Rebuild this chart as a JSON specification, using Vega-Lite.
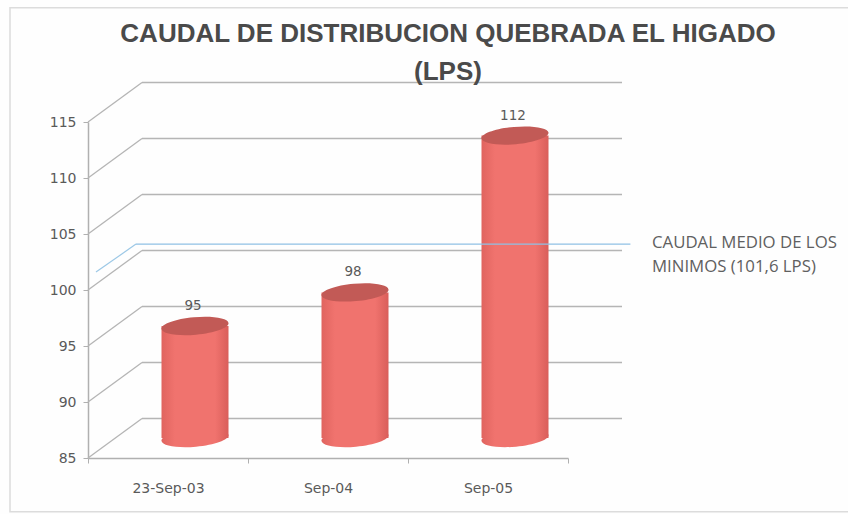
{
"$schema":"https://vega.github.io/schema/vega-lite/v6.json",
"width":480,"height":336,
"autosize":"none",
"padding":{"left":88,"top":122,"right":280,"bottom":56},
"background":"#fefefe",
"view":{"stroke":null},
"title":{"text":["CAUDAL DE DISTRIBUCION QUEBRADA EL HIGADO","(LPS)"],"frame":"group","anchor":"middle","dx":120,"offset":-78,"font":"Liberation Sans","fontWeight":"bold","fontSize":26,"color":"#4a4a4a","lineHeight":38},
"datasets":{
"bars":[{"fecha":"23-Sep-03","pos":0.5,"base":85,"caudal":95},{"fecha":"Sep-04","pos":1.5,"base":85,"caudal":98},{"fecha":"Sep-05","pos":2.5,"base":85,"caudal":112}],
"grid":[{"v":85,"x0":0,"x1":3},{"v":90,"x0":0,"x1":3},{"v":95,"x0":0,"x1":3},{"v":100,"x0":0,"x1":3},{"v":105,"x0":0,"x1":3},{"v":110,"x0":0,"x1":3},{"v":115,"x0":0,"x1":3}],
"mean":[{"caudal":101.6,"desde":0.05,"hasta":3.14}],
"nota":[{"x":3.525,"caudal":101.6,"texto":"CAUDAL MEDIO DE LOS\nMINIMOS (101,6 LPS)"}],
"marco":[{"a":-0.4875,"b":4.78,"y0":80.2,"y1":125.2}]
},
"layer":[
{"data":{"name":"marco"},"mark":{"type":"rect","fill":null,"stroke":"#dcdcdc","strokeWidth":1.5},
 "encoding":{"x":{"field":"a","type":"quantitative","scale":{"domain":[0,3],"nice":false,"padding":0},
   "axis":{"values":[0,1,2,3],"title":null,"grid":false,"labelExpr":"['23-Sep-03','Sep-04','Sep-05',''][datum.value]","labelOffset":80,"labelPadding":18,"labelFont":"DejaVu Sans","labelFontSize":14,"labelColor":"#5a5a5a","domainColor":"#b0b0b0","domainWidth":1.5,"tickColor":"#b0b0b0","tickSize":5,"labelFlush":false,"labelOverlap":false}},
  "x2":{"field":"b"},
  "y":{"field":"y0","type":"quantitative","scale":{"domain":[85,115],"nice":false},
   "axis":{"values":[85,90,95,100,105,110,115],"title":null,"grid":false,"labelFont":"DejaVu Sans","labelFontSize":14,"labelColor":"#5a5a5a","labelPadding":7,"domainColor":"#b0b0b0","domainWidth":1.5,"tickColor":"#b0b0b0","tickSize":5}},
  "y2":{"field":"y1"}}},
{"data":{"name":"grid"},"mark":{"type":"rule","stroke":"#b5b5b5","strokeWidth":1.3,"xOffset":54,"x2Offset":54,"yOffset":-39.5,"y2Offset":-39.5},
 "encoding":{"x":{"field":"x0","type":"quantitative"},"x2":{"field":"x1"},"y":{"field":"v","type":"quantitative"}}},
{"data":{"name":"grid"},"mark":{"type":"rule","stroke":"#b5b5b5","strokeWidth":1.3,"x2Offset":54,"y2Offset":-39.5},
 "encoding":{"x":{"field":"x0","type":"quantitative"},"x2":{"field":"x0"},"y":{"field":"v","type":"quantitative"},"y2":{"field":"v"}}},
{"data":{"name":"bars"},"mark":{"type":"point","filled":true,"opacity":1,"size":4489,"xOffset":27,"yOffset":-20,"shape":"M-1,0.09A1,0.26,-5,1,0,1,-0.09A1,0.26,-5,1,0,-1,0.09Z","fill":{"x1":0,"x2":1,"y1":0,"y2":0,"gradient":"linear","stops":[{"offset":0,"color":"#e0645f"},{"offset":0.2,"color":"#f0736e"},{"offset":0.8,"color":"#f0736e"},{"offset":1,"color":"#d95e5a"}]}},
 "encoding":{"x":{"field":"pos","type":"quantitative"},"y":{"field":"base","type":"quantitative"}}},
{"data":{"name":"bars"},"mark":{"type":"bar","width":67,"xOffset":27,"yOffset":-20,"y2Offset":-20,"fill":{"x1":0,"x2":1,"y1":0,"y2":0,"gradient":"linear","stops":[{"offset":0,"color":"#e0645f"},{"offset":0.2,"color":"#f0736e"},{"offset":0.8,"color":"#f0736e"},{"offset":1,"color":"#d95e5a"}]}},
 "encoding":{"x":{"field":"pos","type":"quantitative"},"y":{"field":"caudal","type":"quantitative"},"y2":{"field":"base"}}},
{"data":{"name":"bars"},"mark":{"type":"point","filled":true,"opacity":1,"size":4489,"xOffset":27,"yOffset":-20,"shape":"M-1,0.09A1,0.26,-5,1,0,1,-0.09A1,0.26,-5,1,0,-1,0.09Z","fill":"#c25a56"},
 "encoding":{"x":{"field":"pos","type":"quantitative"},"y":{"field":"caudal","type":"quantitative"}}},
{"data":{"name":"bars"},"mark":{"type":"text","xOffset":25,"yOffset":-40,"font":"DejaVu Sans","fontSize":13.5,"fill":"#5a5a5a"},
 "encoding":{"x":{"field":"pos","type":"quantitative"},"y":{"field":"caudal","type":"quantitative"},"text":{"field":"caudal","type":"quantitative"}}},
{"data":{"name":"mean"},"mark":{"type":"rule","stroke":"#9cc8e6","strokeWidth":1.2,"x2Offset":40,"y2Offset":-28},
 "encoding":{"x":{"field":"desde","type":"quantitative"},"x2":{"field":"desde"},"y":{"field":"caudal","type":"quantitative"},"y2":{"field":"caudal"}}},
{"data":{"name":"mean"},"mark":{"type":"rule","stroke":"#8fc0e4","strokeWidth":1.2,"xOffset":40,"x2Offset":40,"yOffset":-28,"y2Offset":-28},
 "encoding":{"x":{"field":"desde","type":"quantitative"},"x2":{"field":"hasta"},"y":{"field":"caudal","type":"quantitative"},"y2":{"field":"caudal"}}},
{"data":{"name":"nota"},"mark":{"type":"text","align":"left","baseline":"middle","yOffset":-29,"font":"Open Sans","fontSize":16.8,"fill":"#606060","lineBreak":"\n","lineHeight":24},
 "encoding":{"x":{"field":"x","type":"quantitative"},"y":{"field":"caudal","type":"quantitative"},"text":{"field":"texto"}}}
]
}
